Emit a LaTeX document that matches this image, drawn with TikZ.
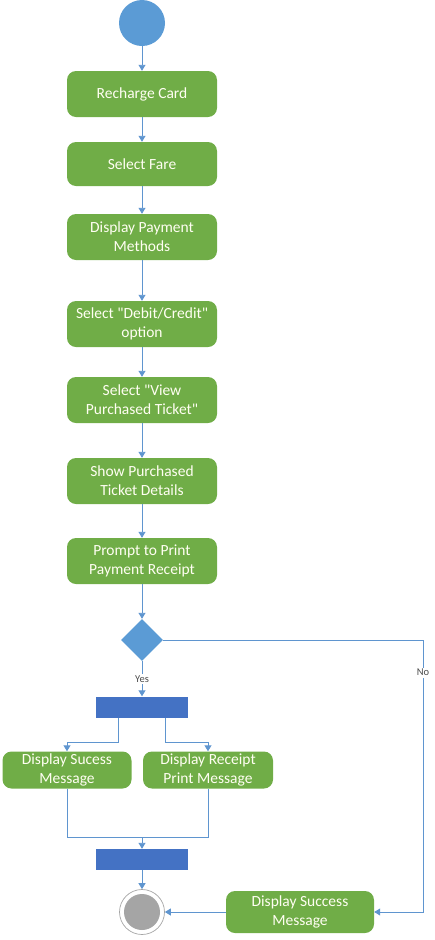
\documentclass[tikz,border=0pt]{standalone}
\usepackage{fontspec}
\setmainfont{Carlito}
\usetikzlibrary{shapes.geometric,arrows.meta}
\definecolor{actgreen}{HTML}{70AD47}
\definecolor{startblue}{HTML}{5B9BD5}
\definecolor{barblue}{HTML}{4472C4}
\definecolor{lineblue}{HTML}{5F95CF}
\definecolor{endgray}{HTML}{A5A5A5}

\begin{document}
\begin{tikzpicture}[x=1pt,y=-1pt]
	\tikzstyle{every node}=[font=\fontsize{15.5}{19}\selectfont,inner sep=0pt]
	\tikzstyle{act}=[rectangle,rounded corners=9pt,fill=actgreen,text=white!95!yellow,minimum width=150pt,minimum height=46pt,align=center]
	\tikzstyle{bar}=[rectangle,fill=barblue,minimum width=92pt,minimum height=21pt]
	\tikzstyle{line}=[draw=lineblue,line width=0.9pt]
	\tikzstyle{flow}=[line,-{Triangle[width=7pt,length=6pt]}]
	\tikzstyle{lbl}=[fill=white,text=black!70,font=\fontsize{10.5}{12}\selectfont,inner sep=1.5pt]

	\useasboundingbox (0,0) rectangle (435,940);

	\node[circle,fill=startblue,minimum size=46pt] (start) at (142,23) {};
	\node[act] (recharge) at (142,94) {Recharge Card};
	\node[act,minimum height=44pt] (fare) at (142,164) {Select Fare};
	\node[act] (methods) at (142,237) {Display Payment\\Methods};
	\node[act] (debit) at (142,324) {Select \textquotedbl Debit/Credit\textquotedbl\\option};
	\node[act] (view) at (142,400) {Select \textquotedbl View\\Purchased Ticket\textquotedbl};
	\node[act] (details) at (142,481) {Show Purchased\\Ticket Details};
	\node[act] (prompt) at (142,561) {Prompt to Print\\Payment Receipt};
	\node[diamond,fill=startblue,minimum width=42pt,minimum height=42pt] (choice) at (142,640) {};
	\node[bar] (fork) at (142,707) {};
	\node[act,minimum width=129pt,minimum height=37pt] (sucess) at (67,770) {Display Sucess\\Message};
	\node[act,minimum width=130pt,minimum height=37pt] (receipt) at (208,770) {Display Receipt\\Print Message};
	\node[bar] (join) at (142,859.5) {};
	\node[circle,draw=endgray,line width=0.7pt,fill=white,minimum size=45pt] (stop) at (142,912) {};
	\fill[endgray] (stop.center) circle (18pt);
	\node[act,minimum width=148pt,minimum height=42pt] (success) at (300,912) {Display Success\\Message};

	\coordinate (merge) at (142,837);
	\coordinate (noturn) at (423,640);

	\draw[flow] (start) -- (recharge);
	\draw[flow] (recharge) -- (fare);
	\draw[flow] (fare) -- (methods);
	\draw[flow] (methods) -- (debit);
	\draw[flow] (debit) -- (view);
	\draw[flow] (view) -- (details);
	\draw[flow] (details) -- (prompt);
	\draw[flow] (prompt) -- (choice);
	\draw[flow] (choice) -- node[lbl]{Yes} (fork);
	\draw[flow] ([xshift=-24pt]fork.south) -- ++(0,25) -| (sucess);
	\draw[flow] ([xshift=23pt]fork.south) -- ++(0,25) -| (receipt);
	\draw[line] (sucess) |- (merge) -| (receipt);
	\draw[flow] (merge) -- (join);
	\draw[flow] (join) -- (stop);
	\draw[line] (choice) -- (noturn);
	\draw[flow] (noturn) |- node[lbl,pos=0.06]{No} (success);
	\draw[flow] (success) -- (stop);
\end{tikzpicture}
\end{document}
